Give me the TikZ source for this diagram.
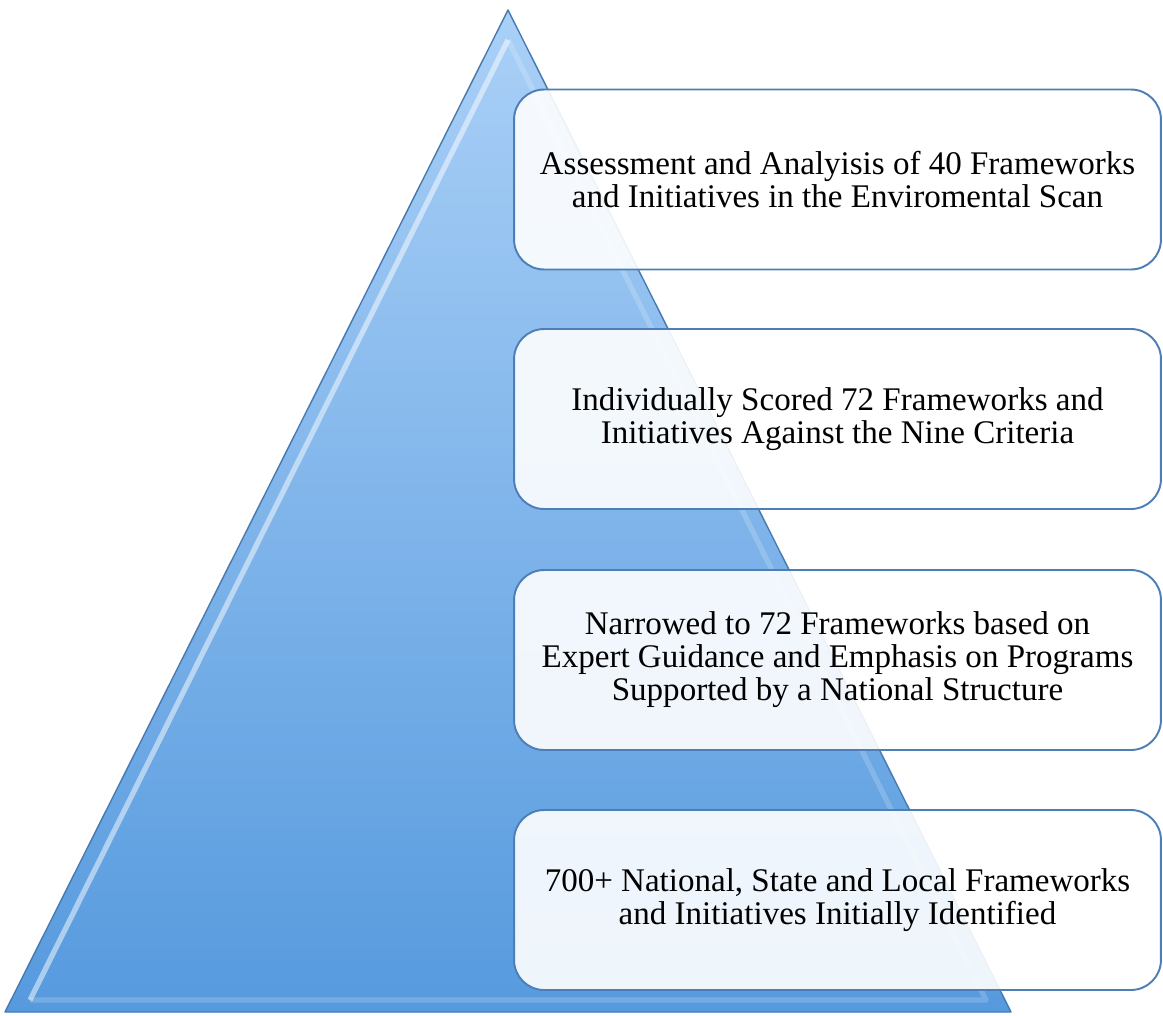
\documentclass[tikz,border=0pt]{standalone}
\usepackage{fontspec}
\setmainfont{Liberation Serif}
\usetikzlibrary{positioning, shadows}
\definecolor{pyrtop}{RGB}{170, 208, 247}
\definecolor{pyrbot}{RGB}{86, 154, 222}
\definecolor{pyredge}{RGB}{72, 122, 178}
\definecolor{boxedge}{RGB}{78, 126, 182}

\begin{document}
\begin{tikzpicture}[x=0.02cm, y=-0.02cm,
  every node/.style={font=\fontsize{18.8}{18.8}\selectfont},
  stage/.style={rectangle, rounded corners=0.6cm, draw=boxedge, line width=1.1pt,
                fill=white, fill opacity=0.9, text opacity=1,
                minimum width=12.94cm, minimum height=3.6cm, align=center},
  bevel/.style={line width=3pt, line join=round, white, opacity=#1}
]
\useasboundingbox (0,0) rectangle (1163,1015);
\coordinate (apex) at (508,10);
\coordinate (bl) at (5,1012);
\coordinate (br) at (1011,1012);
\coordinate (iapex) at (508,40);
\coordinate (ibl) at (30,1000);
\coordinate (ibr) at (986,1000);

\shade[top color=pyrtop, bottom color=pyrbot] (apex) -- (bl) -- (br) -- cycle;
\draw[bevel=0.5] (ibl) -- (iapex);
\draw[bevel=0.18] (iapex) -- (ibr) -- (ibl);
\draw[pyredge, line width=0.8pt, line join=round] (apex) -- (bl) -- (br) -- cycle;

\node[stage] (s1) at (837.5,179.5) {Assessment and Analyisis of 40 Frameworks\\and Initiatives in the Enviromental Scan};
\node[stage] (s2) at (837.5,419) {Individually Scored 72 Frameworks and\\Initiatives Against the Nine Criteria};
\node[stage] (s3) at (837.5,660) {Narrowed to 72 Frameworks based on\\Expert Guidance and Emphasis on Programs\\Supported by a National Structure};
\node[stage] (s4) at (837.5,900) {700+ National, State and Local Frameworks\\and Initiatives Initially Identified};
\end{tikzpicture}
\end{document}
